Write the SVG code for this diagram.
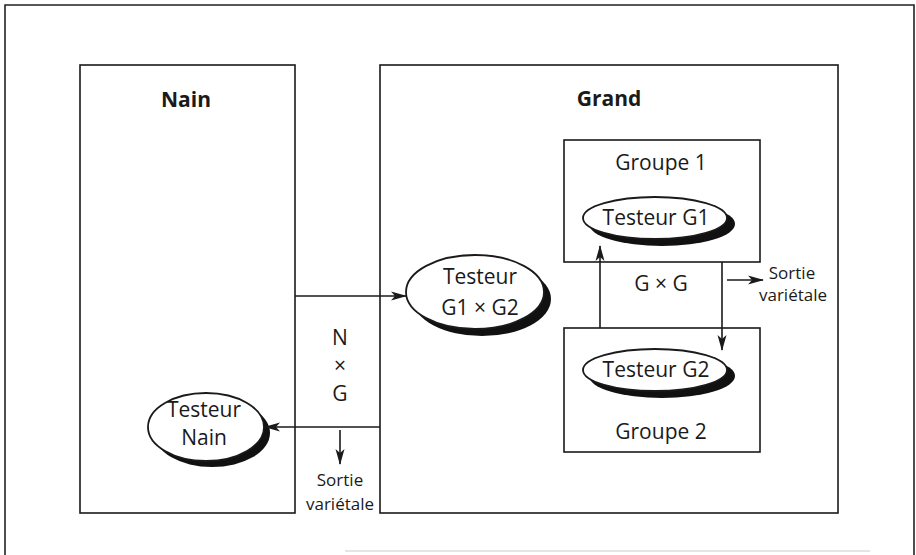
<svg xmlns="http://www.w3.org/2000/svg" width="916" height="555" viewBox="0 0 916 555">
<style>
.box{fill:none;stroke:#1a1a1a;stroke-width:1.6}
.frame{fill:none;stroke:#222;stroke-width:1.6}
.ell{fill:#fff;stroke:#1a1a1a;stroke-width:1.8}
.sh{fill:#111}
.t{font-family:"Open Sans","Liberation Sans",sans-serif;font-size:21px;fill:#1a1a1a;text-anchor:middle}
.b{font-family:"Open Sans","Liberation Sans",sans-serif;font-size:21px;font-weight:bold;fill:#1a1a1a;text-anchor:middle}
.s{font-family:"Open Sans","Liberation Sans",sans-serif;font-size:17px;fill:#1a1a1a;text-anchor:middle}
.c{fill:none;stroke:#1a1a1a;stroke-width:1.6}
</style>
<defs>
<marker id="ah" viewBox="0 0 16 10" refX="15" refY="5" markerWidth="16" markerHeight="10" markerUnits="userSpaceOnUse" orient="auto">
<path d="M0,0.5 L16,5 L0,9.5 L4,5 z" fill="#1a1a1a"/>
</marker>
</defs>
<rect width="916" height="555" fill="#fff"/>
<path class="frame" d="M5,555 V5 H914 V555"/>
<line x1="345" y1="551" x2="870" y2="551" stroke="#ddd" stroke-width="1.5"/>

<g id="nain">
<rect class="box" x="80" y="65" width="215" height="448"/>
<text class="b" x="186" y="107">Nain</text>
</g>
<g id="grand">
<rect class="box" x="380" y="65" width="458" height="448"/>
<text class="b" x="609" y="106">Grand</text>
</g>
<g id="groupe1">
<rect class="box" x="564" y="140" width="196" height="122"/>
<text class="t" x="661" y="170">Groupe 1</text>
</g>
<g id="groupe2">
<rect class="box" x="564" y="328" width="196" height="124"/>
<text class="t" x="661" y="439">Groupe 2</text>
</g>
<g id="testeur-g1">
<ellipse class="sh" cx="662" cy="224" rx="73" ry="22"/>
<ellipse class="ell" cx="655" cy="218" rx="72" ry="21"/>
<text class="t" x="656" y="225">Testeur G1</text>
</g>
<g id="testeur-g2">
<ellipse class="sh" cx="662" cy="376" rx="73" ry="22"/>
<ellipse class="ell" cx="655" cy="370" rx="72" ry="21"/>
<text class="t" x="656" y="377">Testeur G2</text>
</g>
<g id="testeur-g1g2">
<ellipse class="sh" cx="482" cy="299" rx="69" ry="37"/>
<ellipse class="ell" cx="475" cy="292" rx="69" ry="37"/>
<text class="t" x="480" y="284">Testeur</text>
<text class="t" x="480" y="315">G1 × G2</text>
</g>
<g id="testeur-nain">
<ellipse class="sh" cx="212" cy="433" rx="58" ry="34"/>
<ellipse class="ell" cx="206" cy="427" rx="58" ry="34"/>
<text class="t" x="204" y="417">Testeur</text>
<text class="t" x="204" y="445">Nain</text>
</g>

<g id="labels">
<text class="t" x="340" y="345">N</text>
<text class="t" x="340" y="373">×</text>
<text class="t" x="340" y="401">G</text>
<text class="s" x="340" y="486">Sortie</text>
<text class="s" x="340" y="510">variétale</text>
<text class="t" x="661" y="291">G × G</text>
<text class="s" x="792" y="279" font-size="16">Sortie</text>
<text class="s" x="793" y="301" font-size="16">variétale</text>
</g>

<g id="connectors">
<line class="c" x1="295" y1="296" x2="406" y2="296" marker-end="url(#ah)"/>
<line class="c" x1="380" y1="427" x2="265" y2="427" marker-end="url(#ah)"/>
<line class="c" x1="340" y1="430" x2="340" y2="464" marker-end="url(#ah)"/>
<line class="c" x1="600" y1="328" x2="600" y2="246" marker-end="url(#ah)"/>
<line class="c" x1="722" y1="262" x2="722" y2="350" marker-end="url(#ah)"/>
<line class="c" x1="727" y1="280" x2="763" y2="280" marker-end="url(#ah)"/>
</g>
</svg>
